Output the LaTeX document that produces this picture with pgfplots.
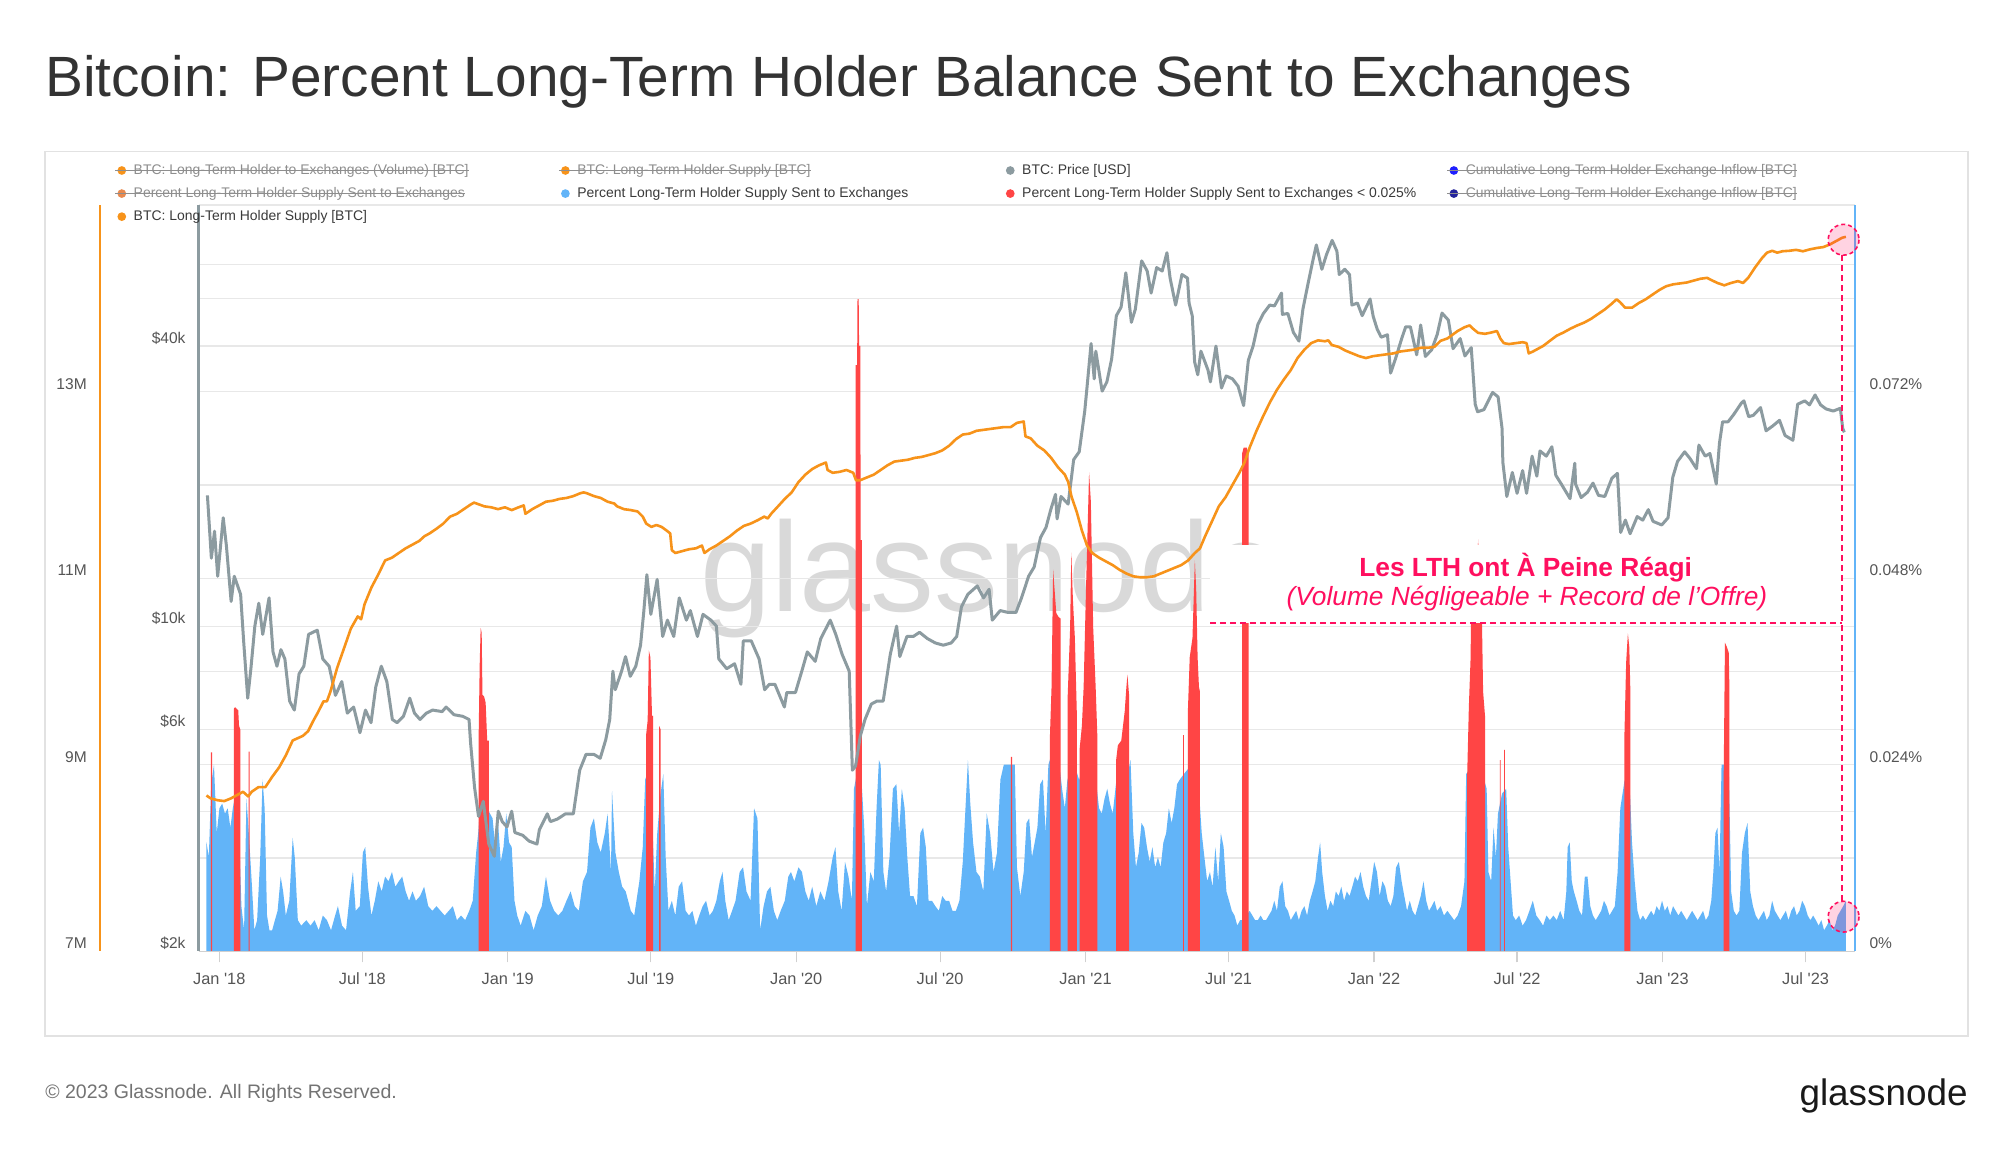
\documentclass[border=0pt]{standalone}
\usepackage{pgfplots}
\usepackage{pgfplotstable}
\pgfplotsset{compat=1.18}
\usepackage{fontspec}
\setmainfont{Liberation Sans}
\definecolor{ltho}{HTML}{F7931A}
\definecolor{ltho2}{HTML}{E98A4F}
\definecolor{pricegray}{HTML}{8C9BA0}
\definecolor{pctblue}{HTML}{62B4F8}
\definecolor{pctred}{HTML}{FF4545}
\definecolor{annpink}{HTML}{FF0F5F}
\definecolor{gridc}{HTML}{E8E8E8}
\definecolor{tickc}{HTML}{D0D0D0}
\definecolor{labc}{HTML}{555555}
\definecolor{legtxt}{HTML}{3A3A3A}
\definecolor{legoffc}{HTML}{8E8E8E}
\definecolor{cumA}{HTML}{1F1FFF}
\definecolor{cumB}{HTML}{23239B}
\definecolor{wm}{HTML}{D9D9D9}
\definecolor{framec}{HTML}{E2E2E2}
\definecolor{titlec}{HTML}{333333}

\pgfplotstableread{
x y
-15 19100
-10 14000
-6 16000
-2 12800
5 17100
9 14900
15 11300
19 12800
27 11700
31 9200
36 7000
40 8100
45 10000
50 11200
55 9600
63 11500
68 8800
73 8200
78 8900
83 8500
89 6900
95 6600
101 7900
107 8200
113 9600
124 9800
131 8500
139 8200
147 7100
155 7600
162 6500
170 6700
178 5900
185 6600
192 6200
198 7400
205 8200
212 7600
219 6300
225 6200
233 6400
241 7000
247 6500
254 6300
262 6500
270 6600
282 6550
287 6700
297 6450
308 6400
316 6300
318 5600
323 4500
328 3900
334 4200
341 3400
348 3200
353 4000
358 3800
364 3700
370 4000
374 3600
384 3550
392 3450
402 3400
405 3650
415 3950
419 3800
428 3850
438 3950
448 3950
456 4900
464 5300
474 5300
482 5200
489 5700
494 6300
498 8000
501 7300
509 8000
514 8600
520 7800
527 8200
533 9100
537 10700
541 12900
546 10600
554 12600
561 9500
567 10300
575 9500
582 11500
591 10300
596 10800
605 9500
612 10600
622 10300
629 10000
632 8500
642 8100
652 8300
660 7500
663 9300
673 9300
683 8500
690 7300
696 7500
703 7500
715 6700
718 7200
729 7200
737 8000
744 8800
754 8400
761 9400
773 10300
780 9600
788 8700
797 8000
801 4900
805 5000
811 5800
817 6300
825 6800
832 6900
840 6900
849 8700
857 10000
861 8600
870 9500
878 9500
886 9700
896 9400
906 9200
916 9100
926 9200
933 9500
939 11000
947 11700
959 12200
967 11500
974 12000
978 10300
988 10800
998 10700
1008 10700
1015 11500
1024 12800
1031 13400
1039 15500
1046 16300
1052 17800
1058 19200
1060 17000
1065 19000
1074 18300
1081 22800
1088 23700
1095 29000
1098 32800
1103 40500
1107 34000
1109 39000
1117 32000
1123 33500
1129 37500
1135 46500
1141 48500
1147 57500
1154 45000
1159 48000
1167 61000
1174 58000
1179 52000
1186 59000
1193 58000
1199 63500
1203 56000
1210 49000
1218 57000
1225 56000
1227 49500
1231 46500
1234 37000
1238 34700
1242 39000
1251 35500
1254 33500
1261 40000
1268 32500
1274 34500
1282 34000
1289 32800
1296 29800
1302 37300
1308 40000
1314 44500
1321 47000
1329 49000
1335 48800
1344 52000
1345 46800
1352 47000
1359 42800
1366 41000
1371 48000
1378 55000
1384 61500
1388 66000
1395 58500
1401 63000
1408 67500
1414 64000
1417 57000
1424 58500
1430 57000
1433 49000
1440 49500
1446 46500
1456 50500
1460 46300
1465 43500
1470 41800
1478 42300
1482 35000
1488 37500
1496 41500
1501 44000
1507 44000
1515 38300
1520 44400
1526 38000
1534 39300
1541 42400
1547 47100
1555 45500
1561 39500
1570 41500
1576 38100
1584 39700
1589 30000
1592 28900
1600 29200
1611 31800
1618 31100
1623 26600
1624 22500
1629 19000
1636 21400
1642 19300
1649 21600
1654 19300
1661 23200
1667 21000
1671 23800
1679 23200
1686 24300
1691 21100
1698 20200
1709 18800
1715 22400
1716 20200
1723 18900
1731 19400
1738 20300
1745 19100
1753 19000
1762 20800
1769 21300
1773 15900
1779 16900
1785 15800
1794 17200
1801 16900
1808 17800
1814 16800
1825 16500
1833 17100
1839 20900
1845 22600
1854 23700
1861 22900
1869 21800
1872 24500
1880 23200
1886 23500
1894 20200
1898 24700
1902 27500
1909 27500
1916 28500
1926 30200
1929 30500
1935 28200
1941 28400
1950 29500
1957 26300
1965 26900
1974 27700
1981 25700
1991 25100
1997 30000
2006 30500
2012 29900
2019 31400
2026 29900
2033 29300
2042 29000
2051 29400
2054 26600
2056 26100
}\pricedata

\pgfplotstableread{
x y
-16.2 8.67
-11 8.64
-2.4 8.62
6.3 8.61
15 8.64
30.1 8.71
36.6 8.66
41 8.71
49.6 8.76
58.3 8.76
66.9 8.87
75.6 8.97
84.2 9.10
92.9 9.26
105.9 9.31
112.4 9.36
118.9 9.47
125.4 9.57
131.9 9.68
136.2 9.68
140.5 9.78
149.2 10.04
157.9 10.25
166.5 10.46
175.2 10.59
179.5 10.56
183.8 10.72
192.5 10.90
201.2 11.04
209.8 11.19
218.5 11.22
227.1 11.27
235.8 11.32
244.5 11.36
253.1 11.40
259.6 11.45
266.1 11.48
274.8 11.53
283.4 11.585
292.1 11.66
300.7 11.69
309.4 11.74
318.1 11.79
322.4 11.81
328.9 11.79
335.4 11.77
344 11.76
352.7 11.74
361.4 11.76
370 11.73
378.7 11.76
385.2 11.78
387.3 11.69
391.7 11.715
396 11.74
404.7 11.78
413.3 11.82
422 11.83
430.6 11.85
439.3 11.86
448 11.88
456.6 11.91
461 11.92
465.3 11.91
474 11.88
482.6 11.86
491.3 11.82
499.9 11.80
503.4 11.77
512 11.74
520.7 11.73
529.3 11.715
535.8 11.66
540.2 11.585
546.7 11.55
553.1 11.57
559.6 11.55
566.1 11.51
570.5 11.48
572.6 11.30
577 11.27
585.6 11.29
594.3 11.31
603 11.32
610.7 11.35
613.8 11.27
620.3 11.31
628.9 11.35
637.6 11.40
646.2 11.45
654.9 11.51
663.6 11.56
672.2 11.585
680.9 11.62
689.5 11.66
693.9 11.64
698.2 11.69
706.9 11.77
715.5 11.85
724.2 11.92
732.8 12.03
741.5 12.11
750.2 12.17
758.8 12.21
767.5 12.24
769.6 12.16
776.1 12.13
784.8 12.14
793.5 12.16
802.1 12.13
805.6 12.05
810.8 12.05
819.4 12.08
828.1 12.11
836.8 12.16
845.4 12.21
854.1 12.25
862.7 12.26
871.4 12.27
880 12.29
888.7 12.30
897.4 12.32
906 12.34
914.7 12.37
923.4 12.42
932 12.49
940.7 12.54
949.3 12.55
958 12.58
966.7 12.59
975.3 12.60
984 12.61
992.6 12.62
1001.3 12.62
1009.2 12.665
1017.8 12.68
1020 12.52
1026.5 12.50
1035.1 12.42
1043.8 12.37
1052.5 12.29
1061.1 12.19
1069.8 12.11
1074.1 12.03
1078.4 11.87
1084.9 11.71
1091.4 11.51
1097.9 11.35
1104.4 11.27
1113.1 11.22
1121.7 11.18
1130.4 11.14
1139 11.09
1147.7 11.05
1156.4 11.02
1165 11.01
1173.7 11.01
1182.4 11.02
1191 11.05
1199.7 11.08
1208.3 11.11
1217 11.14
1225.7 11.19
1234.3 11.27
1240.8 11.32
1247.3 11.45
1256 11.61
1264.6 11.77
1273.3 11.87
1281.9 12.00
1290.6 12.13
1297.1 12.24
1303.6 12.40
1312.3 12.58
1320.9 12.74
1329.6 12.89
1338.2 13.02
1346.9 13.13
1355.6 13.23
1364.2 13.36
1372.9 13.45
1381.5 13.52
1390.2 13.55
1398.9 13.54
1403.2 13.55
1407.5 13.50
1416.2 13.48
1424.8 13.44
1433.5 13.41
1442.2 13.38
1450.8 13.36
1459.5 13.38
1468.1 13.39
1476.8 13.40
1485.5 13.41
1494.1 13.43
1502.8 13.44
1511.4 13.45
1520.1 13.47
1528.8 13.47
1537.4 13.48
1545.2 13.545
1553.8 13.57
1560.3 13.61
1566.8 13.65
1575.4 13.69
1581.9 13.71
1586.2 13.675
1592.7 13.63
1601.4 13.62
1610 13.635
1616.5 13.65
1620.8 13.57
1625.2 13.52
1631.7 13.51
1640.3 13.52
1649 13.53
1654 13.52
1656.7 13.41
1662 13.43
1675 13.49
1683.5 13.545
1692.2 13.60
1700.9 13.635
1709.5 13.675
1718.2 13.71
1726.8 13.74
1735.5 13.78
1744.1 13.83
1752.8 13.88
1761.4 13.94
1767.9 13.99
1772.2 13.96
1778.7 13.90
1787.4 13.90
1796 13.95
1804.7 13.99
1813.3 14.04
1822 14.09
1830.6 14.13
1839.3 14.15
1847.9 14.16
1856.6 14.17
1865.2 14.19
1873.9 14.21
1882.5 14.22
1886.8 14.20
1895.5 14.165
1904.1 14.14
1912.8 14.165
1921.4 14.185
1927.9 14.165
1934.4 14.22
1943 14.33
1951.7 14.43
1958.2 14.49
1964.7 14.51
1971.2 14.49
1977.7 14.505
1986.3 14.51
1995 14.52
2003.6 14.505
2012.3 14.525
2021 14.54
2029.6 14.55
2038.2 14.58
2046.9 14.62
2053.3 14.65
2058 14.66
}\supplydata

\pgfplotstableread{
x y
-16.2 0.0140
-13.2 0.0121
-10.2 0.0215
-6.7 0.0240
-3.2 0.0152
0.2 0.0184
3.7 0.0190
7.2 0.0177
10.6 0.0184
14.1 0.0159
17.1 0.0184
20 0.0200
24 0.0190
28 0.0058
31.4 0.0027
34.4 0.0196
37.5 0.0150
41 0.0090
44.4 0.0027
47.9 0.0040
51.8 0.0121
54.8 0.0221
57.4 0.0184
60.4 0.0046
63.5 0.0027
66.9 0.0027
70.4 0.0040
73.8 0.0052
77.7 0.0096
80.8 0.0077
84.2 0.0046
88.6 0.0065
92.9 0.0146
95.5 0.0121
99.4 0.0040
103.7 0.0033
110.2 0.0040
115.4 0.0033
120.6 0.0040
125.8 0.0027
131 0.0046
136.2 0.0040
141.4 0.0027
146.6 0.0046
150.1 0.0058
155.3 0.0033
160.4 0.0027
165.6 0.0077
169.1 0.0102
172.6 0.0052
177.8 0.0058
181.7 0.0127
184.7 0.0134
188.2 0.0083
192.5 0.0046
196.8 0.0065
201.2 0.0090
205.5 0.0077
209.8 0.0096
214.1 0.0090
218.5 0.0102
222.8 0.0083
227.1 0.0090
231.5 0.0096
235.8 0.0077
240.1 0.0065
244.5 0.0077
248.8 0.0065
254 0.0071
259.2 0.0083
264.4 0.0058
269.6 0.0052
274.8 0.0058
280 0.0052
285.2 0.0046
290.3 0.0052
295.5 0.0058
300.7 0.0040
305.9 0.0046
311.1 0.0040
316.3 0.0052
320.7 0.0065
325 0.0127
327.6 0.0152
331 0.0200
336 0.0200
341 0.0180
345.8 0.0171
349.2 0.0134
352.7 0.0165
356.2 0.0115
359.6 0.0134
363.1 0.0177
366.6 0.0140
370 0.0134
373.5 0.0065
377 0.0046
381.3 0.0033
387.3 0.0052
392.5 0.0046
397.7 0.0027
402.9 0.0046
408.1 0.0058
413.3 0.0096
418.5 0.0065
423.7 0.0052
428.9 0.0046
434.1 0.0052
439.3 0.0065
444.5 0.0077
449.7 0.0058
454.9 0.0052
460.1 0.0090
465.3 0.0102
469.6 0.0159
474 0.0171
478.3 0.0140
482.6 0.0127
487.8 0.0152
491.3 0.0177
495.6 0.0102
496.9 0.0206
501.2 0.0127
505.5 0.0102
509.8 0.0083
514.2 0.0077
520.7 0.0052
525 0.0046
531.5 0.0090
535.8 0.0134
538.9 0.0221
542 0.0230
546 0.0220
551 0.0077
554 0.0150
558 0.0200
561.8 0.0228
564.8 0.0121
568.3 0.0052
572.6 0.0065
577 0.0046
581.3 0.0083
585.6 0.0090
590 0.0052
594.3 0.0046
598.6 0.0052
603 0.0033
607.3 0.0046
611.6 0.0058
615.9 0.0065
620.3 0.0046
624.6 0.0052
628.9 0.0065
633.3 0.0090
636.7 0.0102
640.2 0.0065
644.5 0.0040
648.8 0.0052
653.2 0.0065
658.4 0.0102
662.7 0.0108
667 0.0077
672.2 0.0065
676.6 0.0184
680.9 0.0171
684.3 0.0027
688.7 0.0058
693 0.0077
697.3 0.0083
701.7 0.0052
706 0.0040
710.3 0.0052
715.5 0.0065
719.9 0.0096
723.3 0.0102
727.6 0.0090
732.8 0.0108
737.2 0.0102
741.5 0.0077
745.8 0.0065
750.2 0.0083
755.4 0.0058
760.5 0.0077
765.7 0.0065
770.9 0.0090
776.1 0.0121
779.6 0.0134
783.1 0.0077
787.4 0.0052
791.7 0.0115
796.1 0.0096
800.4 0.0065
803 0.0209
807 0.0230
812 0.0230
816 0.0159
819.4 0.0058
823.8 0.0102
828.1 0.0090
831.6 0.0184
834.6 0.0246
836.8 0.0240
840.2 0.0102
843.7 0.0077
848 0.0121
852.3 0.0209
856.7 0.0215
860.1 0.0152
863.6 0.0209
867.1 0.0184
870.5 0.0121
874 0.0071
878.3 0.0071
882.7 0.0058
887 0.0152
890.5 0.0159
893.9 0.0134
897.4 0.0065
901.7 0.0065
906 0.0058
910.4 0.0052
914.7 0.0071
919 0.0065
923.4 0.0065
927.7 0.0052
932 0.0052
936.4 0.0065
940.7 0.0115
944.1 0.0184
947.2 0.0246
950.2 0.0190
953.7 0.0140
958 0.0102
962.3 0.0096
966.7 0.0077
971 0.0177
975.3 0.0152
979.6 0.0102
984 0.0127
988.3 0.0221
992.6 0.0240
997 0.0240
1002 0.0240
1006.5 0.0240
1009.2 0.0108
1013.5 0.0071
1017.8 0.0102
1021.3 0.0165
1024.7 0.0171
1028.2 0.0121
1031.7 0.0140
1035.1 0.0159
1038.6 0.0215
1042.1 0.0221
1045.5 0.0152
1049 0.0240
1052 0.0250
1058 0.0240
1064 0.0230
1066.3 0.0209
1069.8 0.0184
1073 0.0220
1079 0.0240
1085 0.0230
1088 0.0220
1095 0.0250
1102 0.0240
1108 0.0230
1113.1 0.0184
1116.5 0.0177
1120 0.0196
1123.5 0.0209
1126.9 0.0190
1130.4 0.0177
1135 0.0220
1142 0.0230
1148 0.0220
1152.9 0.0246
1156.4 0.0152
1159.8 0.0108
1163.3 0.0127
1166.8 0.0165
1170.2 0.0159
1173.7 0.0134
1177.2 0.0115
1180.6 0.0134
1184.1 0.0108
1187.6 0.0121
1191 0.0108
1194.5 0.0140
1198 0.0152
1201.4 0.0184
1204.9 0.0165
1208.3 0.0184
1211.8 0.0215
1215.3 0.0221
1222 0.0230
1230 0.0240
1238 0.0230
1243 0.0152
1246.4 0.0121
1249.9 0.0090
1253.4 0.0102
1256.8 0.0083
1260.3 0.0134
1263.8 0.0090
1267.2 0.0152
1270.7 0.0134
1274.2 0.0077
1277.6 0.0065
1281.1 0.0052
1284.5 0.0046
1288 0.0033
1291.5 0.0040
1296 0.0040
1303.6 0.0052
1307.1 0.0046
1310.5 0.0040
1314 0.0040
1317.5 0.0046
1320.9 0.0040
1324.4 0.0040
1327.8 0.0046
1331.3 0.0052
1334.8 0.0065
1338.2 0.0052
1341.7 0.0083
1345.2 0.0090
1348.6 0.0058
1352.1 0.0052
1355.6 0.0040
1359 0.0046
1362.5 0.0052
1365.9 0.0040
1369.4 0.0052
1372.9 0.0058
1376.3 0.0046
1379.8 0.0065
1383.3 0.0077
1386.7 0.0090
1390.2 0.0121
1392.8 0.0140
1395.4 0.0102
1398.9 0.0071
1402.3 0.0052
1405.8 0.0065
1409.3 0.0058
1412.7 0.0077
1416.2 0.0071
1419.6 0.0083
1423.1 0.0065
1426.6 0.0077
1430 0.0071
1433.5 0.0083
1437 0.0096
1440.4 0.0090
1443.9 0.0102
1447.4 0.0083
1450.8 0.0071
1454.3 0.0065
1457.7 0.0090
1461.2 0.0115
1464.7 0.0102
1468.1 0.0071
1471.6 0.0090
1475.1 0.0083
1478.5 0.0065
1482 0.0058
1485.5 0.0071
1488.9 0.0108
1492.4 0.0115
1495.9 0.0090
1499.3 0.0071
1502.8 0.0052
1506.2 0.0065
1509.7 0.0052
1513.2 0.0046
1516.6 0.0058
1520.1 0.0071
1523.6 0.0090
1527 0.0065
1530.5 0.0052
1534 0.0058
1537.4 0.0065
1540.8 0.0052
1545.2 0.0058
1549.5 0.0046
1553.8 0.0052
1558.1 0.0046
1562.5 0.0040
1566.8 0.0046
1571.1 0.0058
1575.4 0.0090
1577.6 0.0228
1585 0.0240
1595 0.0240
1603.5 0.0209
1605.7 0.0102
1609.2 0.0090
1612.2 0.0159
1615.2 0.0121
1617.8 0.0177
1623 0.0203
1628.2 0.0209
1630.8 0.0134
1633.8 0.0090
1636.8 0.0046
1640.3 0.0040
1644.6 0.0046
1649 0.0033
1653.3 0.0040
1657.6 0.0052
1661.9 0.0065
1666.3 0.0046
1670.6 0.0040
1674.9 0.0033
1679.2 0.0046
1683.5 0.0040
1687.9 0.0046
1692.2 0.0040
1696.5 0.0052
1700.9 0.0040
1704.3 0.0077
1706 0.0134
1708.6 0.0140
1711.2 0.0090
1713.8 0.0077
1717.3 0.0065
1720.7 0.0052
1724.2 0.0046
1727.7 0.0096
1731.1 0.0096
1734.6 0.0058
1738 0.0046
1741.5 0.0040
1745 0.0046
1748.4 0.0052
1751.9 0.0065
1755.4 0.0058
1758.8 0.0046
1762.3 0.0052
1765.7 0.0058
1769.2 0.0102
1772.6 0.0184
1778 0.0220
1785 0.0200
1787.4 0.0140
1790.8 0.0090
1794.3 0.0052
1797.7 0.0040
1801.2 0.0046
1804.7 0.0040
1808.1 0.0046
1811.6 0.0052
1815 0.0046
1818.5 0.0058
1822 0.0052
1825.4 0.0065
1828.9 0.0052
1832.3 0.0058
1835.8 0.0046
1839.3 0.0058
1842.7 0.0052
1846.2 0.0046
1849.6 0.0052
1853.1 0.0046
1856.6 0.0040
1860 0.0046
1863.5 0.0052
1867 0.0046
1870.4 0.0040
1873.9 0.0046
1877.3 0.0052
1880.8 0.0040
1884.2 0.0046
1887.7 0.0065
1890.3 0.0102
1892.9 0.0152
1895.5 0.0159
1898.1 0.0102
1900.7 0.0240
1905 0.0240
1910 0.0230
1912.8 0.0077
1916.2 0.0052
1919.7 0.0046
1923.2 0.0052
1926.6 0.0127
1930.1 0.0152
1933.5 0.0165
1937 0.0077
1940.4 0.0058
1943.9 0.0046
1947.4 0.0040
1950.8 0.0046
1954.3 0.0052
1957.8 0.0040
1961.2 0.0046
1964.7 0.0065
1968.1 0.0052
1971.6 0.0046
1975.1 0.0040
1978.5 0.0046
1982 0.0052
1985.4 0.0040
1988.9 0.0052
1992.4 0.0058
1995.8 0.0046
1999.3 0.0052
2002.7 0.0065
2006.2 0.0058
2009.7 0.0046
2013.1 0.0040
2016.6 0.0046
2020 0.0040
2023.5 0.0033
2027 0.0040
2030.4 0.0027
2033.9 0.0033
2037.3 0.0040
2040.8 0.0027
2044.3 0.0033
2047.7 0.0046
2051.2 0.0052
2054.6 0.0058
2058 0.0065
}\bluedata

\pgfplotsset{
  base/.style={at={(99.36bp,100.36bp)}, anchor=south west, scale only axis,
    width=828.2bp, height=373.1bp, xmin=-26, xmax=2069.7,
    axis line style={draw=none}, scaled ticks=false,
    tick label style={font=\fontsize{7.8}{8}\selectfont, text=labc, inner sep=0pt},
    y tick style={draw=none}},
}
\newcommand{\legfont}{\fontsize{7}{8}\selectfont}

\begin{document}
\begin{tikzpicture}
\path[fill=white] (0,0) rectangle (1000bp,576bp);
\path[use as bounding box] (0,0) rectangle (1000bp,576bp);

% watermark (behind grid)
\begin{scope}[shift={(0,576bp)}, x=0.64103bp, y=-0.64103bp]
\node[anchor=base west, inner sep=0pt, text=wm, font=\fontsize{64}{64}\selectfont] at (546,477) {glassnode};
\end{scope}

% price grid + labels
\begin{axis}[base, ymode=log, ymin=2000, ymax=80400,
  ytick={2000,4000,6000,10000,40000,60000},
  yticklabels={\$2k,,\$6k,\$10k,\$40k,},
  ymajorgrids, grid style={draw=gridc, line width=0.6bp},
  ytick pos=left, yticklabel style={anchor=east, xshift=-6.4bp, yshift=3.85bp},
  xtick=\empty]
\addplot[draw=none] coordinates {(0,3000)};
\end{axis}

% percent grid + labels + x ticks
\begin{axis}[base, ymin=0, ymax=0.096,
  ytick={0,0.012,0.024,0.036,0.048,0.06,0.072,0.084},
  yticklabels={0\%,,0.024\%,,0.048\%,,0.072\%,},
  ymajorgrids, grid style={draw=gridc, line width=0.6bp},
  ytick pos=right, yticklabel pos=right,
  yticklabel style={anchor=west, xshift=1.5bp, yshift=3.85bp},
  xtick={0,181,365,546,730,912,1096,1277,1461,1642,1826,2007},
  xticklabels={Jan \textquotesingle18,Jul \textquotesingle18,Jan \textquotesingle19,Jul \textquotesingle19,Jan \textquotesingle20,Jul \textquotesingle20,Jan \textquotesingle21,Jul \textquotesingle21,Jan \textquotesingle22,Jul \textquotesingle22,Jan \textquotesingle23,Jul \textquotesingle23},
  xtick pos=left, tick align=outside, major tick length=5.5bp,
  x tick style={draw=tickc, line width=0.6bp},
  xticklabel style={font=\fontsize{8.2}{9}\selectfont, yshift=-5bp}]
\addplot[draw=none] coordinates {(0,0.01)};
\end{axis}

% supply labels
\begin{axis}[base, ymin=7, ymax=15, ytick={7,9,11,13}, yticklabels={7M,9M,11M,13M},
  ytick pos=left, yticklabel style={anchor=east, xshift=-55.8bp, yshift=3.85bp},
  xtick=\empty]
\addplot[draw=none] coordinates {(0,8)};
\end{axis}

% percent series
\begin{axis}[base, hide axis, ymin=0, ymax=0.096]
\addplot[fill=pctblue, draw=none] table {\bluedata} \closedcycle;
\addplot[fill=pctred, draw=none] coordinates {(-10.5,0)(-10.5,0.0256)(-9,0.0256)(-9,0)} \closedcycle;
\addplot[fill=pctred, draw=none] coordinates {(18.4,0)(18.4,0.0312)(20,0.0314)(24,0.0310)(25,0.0290)(26.7,0.0285)(26.7,0)} \closedcycle;
\addplot[fill=pctred, draw=none] coordinates {(37,0)(37,0.0257)(38.5,0.0257)(38.5,0)} \closedcycle;
\addplot[fill=pctred, draw=none] coordinates {(328,0)(328,0.0265)(329.5,0.0369)(330.7,0.0416)(332,0.0410)(333,0.0330)(335,0.0328)(337,0.0320)(339,0.0271)(341,0.0271)(341,0)} \closedcycle;
\addplot[fill=pctred, draw=none] coordinates {(540,0)(540,0.0278)(542,0.0297)(543.5,0.0387)(545.5,0.0378)(547.5,0.0303)(549,0.0303)(549,0)} \closedcycle;
\addplot[fill=pctred, draw=none] coordinates {(556.5,0)(556.5,0.0290)(558.5,0.0285)(558.5,0)} \closedcycle;
\addplot[fill=pctred, draw=none] coordinates {(805,0)(805,0.0754)(807,0.0754)(807.5,0.0839)(809,0.0839)(809.5,0.0779)(811,0.0779)(811.5,0.0529)(813,0.0529)(813,0)} \closedcycle;
\addplot[fill=pctred, draw=none] coordinates {(1001.5,0)(1001.5,0.0250)(1003,0.0250)(1003,0)} \closedcycle;
\addplot[fill=pctred, draw=none] coordinates {(1051,0)(1051,0.0278)(1053,0.0340)(1055,0.0491)(1056.5,0.0470)(1059,0.0435)(1062,0.0430)(1064.5,0.0428)(1064.5,0)} \closedcycle;
\addplot[fill=pctred, draw=none] coordinates {(1073.2,0)(1073.2,0.0322)(1076.5,0.0416)(1078,0.0513)(1080,0.0453)(1082.5,0.0403)(1084.9,0.0309)(1084.9,0)} \closedcycle;
\addplot[fill=pctred, draw=none] coordinates {(1088.4,0)(1088.4,0.0259)(1091.4,0.0290)(1093.6,0.0340)(1096.6,0.0466)(1100.5,0.0616)(1102.7,0.0579)(1105.7,0.0416)(1108.8,0.0340)(1110.9,0.0278)(1110.9,0)} \closedcycle;
\addplot[fill=pctred, draw=none] coordinates {(1134.7,0)(1134.7,0.0246)(1136.9,0.0265)(1141.2,0.0271)(1145.6,0.0309)(1147.7,0.0340)(1149,0.0356)(1151.2,0.0328)(1151.2,0)} \closedcycle;
\addplot[fill=pctred, draw=none] coordinates {(1219.5,0)(1219.5,0.0278)(1220.5,0.0278)(1220.5,0)} \closedcycle;
\addplot[fill=pctred, draw=none] coordinates {(1225.5,0)(1225.5,0.0309)(1227.8,0.0378)(1231.3,0.0403)(1234.3,0.0503)(1236,0.0466)(1237.8,0.0378)(1239.5,0.0340)(1240.8,0.0334)(1240.8,0)} \closedcycle;
\addplot[fill=pctred, draw=none] coordinates {(1294,0)(1294,0.0640)(1296,0.0648)(1300,0.0648)(1302.3,0.0640)(1302.3,0)} \closedcycle;
\addplot[fill=pctred, draw=none] coordinates {(1578.9,0)(1578.9,0.0228)(1581,0.0315)(1583.2,0.0378)(1584,0.046)(1586,0.049)(1588.5,0.050)(1591,0.048)(1592.7,0.053)(1594.5,0.047)(1597,0.046)(1599,0.0334)(1601.4,0.0303)(1601.4,0)} \closedcycle;
\addplot[fill=pctred, draw=none] coordinates {(1620.3,0)(1620.3,0.0246)(1621.3,0.0246)(1621.3,0)} \closedcycle;
\addplot[fill=pctred, draw=none] coordinates {(1625.5,0)(1625.5,0.0259)(1626.5,0.0259)(1626.5,0)} \closedcycle;
\addplot[fill=pctred, draw=none] coordinates {(1777.8,0)(1777.8,0.0278)(1780,0.0372)(1782.2,0.0409)(1784,0.0391)(1785.2,0.0340)(1785.2,0)} \closedcycle;
\addplot[fill=pctred, draw=none] coordinates {(1903.3,0)(1903.3,0.0215)(1905,0.0397)(1907.6,0.0391)(1909.8,0.0384)(1910.6,0.0340)(1910.6,0)} \closedcycle;
\end{axis}

% price
\begin{axis}[base, hide axis, ymode=log, ymin=2000, ymax=80400]
\addplot[pricegray, line width=1.5bp, line join=round] table {\pricedata};
\end{axis}

% supply
\begin{axis}[base, hide axis, ymin=7, ymax=15]
\addplot[ltho, line width=1.3bp, line join=round] table {\supplydata};
\end{axis}

\begin{scope}[shift={(0,576bp)}, x=0.64103bp, y=-0.64103bp]
% frame and axis lines
\draw[framec, line width=0.7bp] (35,118) rectangle (1535,808);
\draw[gridc, line width=0.7bp] (155,160) -- (1447,160);
\draw[tickc, line width=0.6bp] (155,742) -- (1447,742);
\draw[ltho, line width=1.3bp] (78,160) -- (78,742);
\draw[pricegray, line width=1.5bp] (155,160) -- (155,742);
\draw[pctblue, line width=1.3bp] (1447,160) -- (1447,742);
% annotation
\fill[white] (944,425) rectangle (1437,486);
\draw[annpink, line width=0.9bp, dash pattern=on 3bp off 2bp] (944,486) -- (1437,486);
\draw[annpink, line width=0.9bp, dash pattern=on 3bp off 2bp] (1437,199) -- (1437,703);
\filldraw[fill=annpink, fill opacity=0.18, draw=annpink, line width=0.8bp, dash pattern=on 2bp off 1.5bp] (1438,187) circle[radius=12];
\filldraw[fill=annpink, fill opacity=0.18, draw=annpink, line width=0.8bp, dash pattern=on 2bp off 1.5bp] (1438,715) circle[radius=12];
\node[text=annpink, font=\fontsize{13.2}{14}\selectfont\bfseries, inner sep=0pt] at (1190,443) {Les LTH ont À Peine Réagi};
\node[text=annpink, font=\fontsize{13.2}{14}\selectfont\itshape, inner sep=0pt] at (1191,467) {(Volume Négligeable + Record de l’Offre)};
% title & footer
\node[anchor=base west, inner sep=0pt, text=titlec, font=\fontsize{28.5}{30}\selectfont] at (35,75) {Bitcoin: Percent Long-Term Holder Balance Sent to Exchanges};
\node[anchor=base west, inner sep=0pt, text=black!55, font=\fontsize{9.8}{10}\selectfont] at (35,857) {© 2023 Glassnode. All Rights Reserved.};
\node[anchor=base east, inner sep=0pt, text=black!90, font=\fontsize{18.5}{19}\selectfont] at (1535,862) {glassnode};
% legend
\newcommand\legon[5]{\fill[#4] (#1,#3) circle[radius=3.4]; \node[anchor=west,inner sep=0pt,text=legtxt,font=\legfont] at (#2,#3) {#5};}
\newcommand\legoff[5]{\fill[#4] (#1,#3) circle[radius=3.4]; \node[anchor=west,inner sep=0pt,text=legoffc,font=\legfont] (tmp) at (#2,#3) {#5}; \draw[legoffc, line width=0.55bp] (#1-5,#3) -- (tmp.east);}
\legoff{95}{104}{133}{ltho}{BTC: Long-Term Holder to Exchanges (Volume) [BTC]}
\legoff{441}{450}{133}{ltho}{BTC: Long-Term Holder Supply [BTC]}
\legon{788}{797}{133}{pricegray}{BTC: Price [USD]}
\legoff{1134}{1143}{133}{cumA}{Cumulative Long-Term Holder Exchange Inflow [BTC]}
\legoff{95}{104}{151}{ltho2}{Percent Long-Term Holder Supply Sent to Exchanges}
\legon{441}{450}{151}{pctblue}{Percent Long-Term Holder Supply Sent to Exchanges}
\legon{788}{797}{151}{pctred}{Percent Long-Term Holder Supply Sent to Exchanges < 0.025\%}
\legoff{1134}{1143}{151}{cumB}{Cumulative Long-Term Holder Exchange Inflow [BTC]}
\legon{95}{104}{169}{ltho}{BTC: Long-Term Holder Supply [BTC]}
\end{scope}
\end{tikzpicture}
\end{document}
